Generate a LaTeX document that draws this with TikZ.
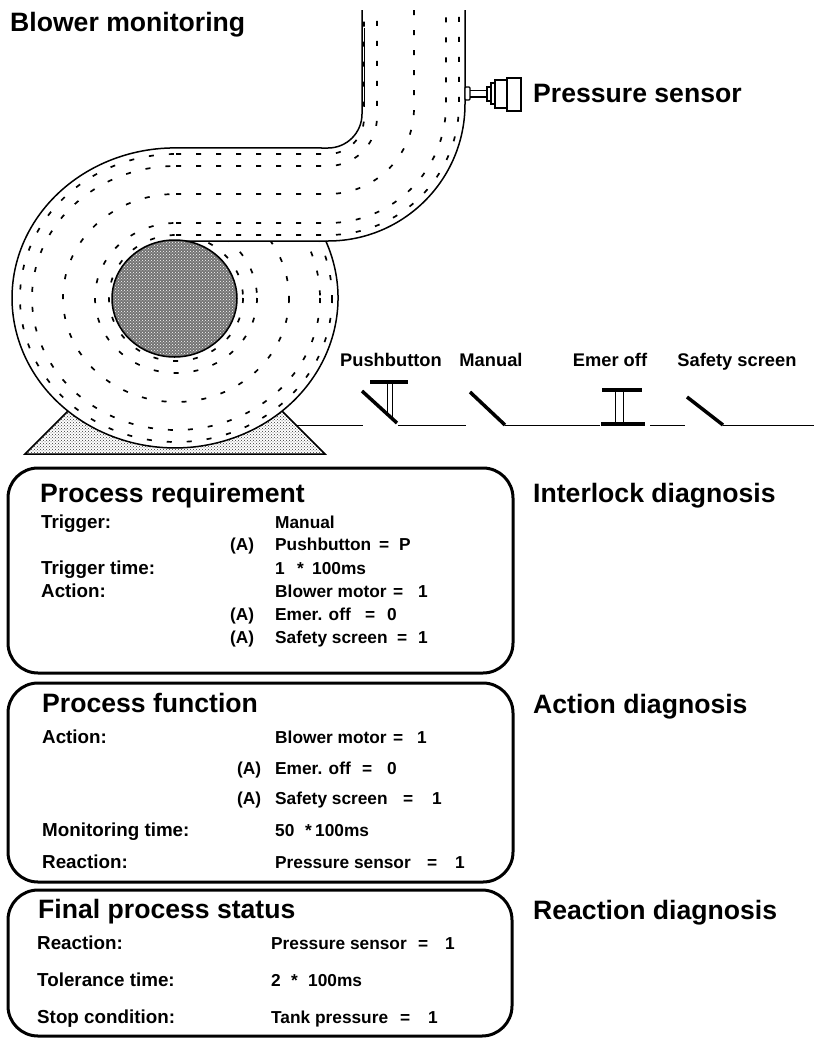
\documentclass[tikz,border=0pt]{standalone}
\usepackage{fontspec}
\setmainfont{Liberation Sans}
\usetikzlibrary{patterns}
\begin{document}
\begin{tikzpicture}[x=1pt,y=-1pt,
  head/.style={font=\fontsize{26.6}{30}\selectfont\bfseries, anchor=base west, inner sep=0pt},
  txt/.style={font=\fontsize{18.8}{22}\selectfont\bfseries, anchor=base west, inner sep=0pt},
  val/.style={font=\fontsize{17.3}{21}\selectfont\bfseries, anchor=base west, inner sep=0pt},
  lbl/.style={font=\fontsize{18.3}{22}\selectfont\bfseries, anchor=base, inner sep=0pt},
  wall/.style={line width=1.5pt},
  flow/.style={line width=1.7pt, dash pattern=on 5pt off 15pt},
  panel/.style={line width=3pt, rounded corners=30pt},
  contact/.style={line width=3.5pt},
  wire/.style={line width=1pt},
  part/.style={line width=1.2pt, fill=white}]
\useasboundingbox (0,0) rectangle (814,1039);

% ---------- blower on its base ----------
\draw[wall, pattern=crosshatch dots, pattern color=black!80] (25,454) -- (325,454) -- (175,304) -- cycle;
\fill[white] (175,298) ellipse[x radius=163, y radius=150];

% air flow lines around the impeller
\begin{scope}
  \clip (0,10) -- (176,10) -- (176,241) -- (814,241) -- (814,1039) -- (0,1039) -- cycle;
  \foreach \rx/\ry in {156/144, 144/132, 113/104, 81/75, 67/63}
    \draw[flow] (176,298) ellipse[x radius=\rx, y radius=\ry];
\end{scope}
% air flow lines through the outlet duct
\begin{scope}
  \clip (0,10) rectangle (814,1039);
  \foreach \y/\x in {154/364, 166/377, 194/414, 223/446, 235/459} {
    \pgfmathsetmacro\rr{\x-328}
    \draw[flow] (176,\y) -- (328,\y) arc[start angle=90, end angle=0, radius=\rr] -- (\x,0);
  }
\end{scope}

% housing and duct walls
\draw[wall] (325.8,241) arc[start angle=-22.3, end angle=270, x radius=163, y radius=150]
  -- (328,148) arc[start angle=90, end angle=0, radius=34] -- (362,10);
\draw[wall] (465,10) -- (465,104) arc[start angle=0, end angle=90, radius=137] -- (176,241);
\draw[line width=1pt] (364.5,28) -- (364.5,107);

% impeller hub
\filldraw[line width=1.5pt, fill=black!55] (174.5,298.5) ellipse[x radius=62.5, y radius=58.5];
\fill[pattern=crosshatch dots, pattern color=white] (174.5,298.5) ellipse[x radius=61, y radius=57];

% pressure sensor on the duct
\draw[part, rounded corners=1pt] (465,87) rectangle (470,100);
\draw[line width=1.2pt] (470,90.5) -- (487,90.5) (470,97) -- (487,97);
\draw[part] (487,87) rectangle (491,101);
\draw[part] (491,83) rectangle (495,104);
\draw[part] (495,80) rectangle (507,108);
\draw[part, line width=1.5pt] (507,78) rectangle (521,111);

% ---------- switch chain ----------
\draw[wire] (297,425.5) -- (363,425.5);
\draw[contact] (362,391) -- (397,423);
\draw[contact] (370,382) -- (408,382);
\draw[line width=1pt] (387,382) -- (387,414) (392,382) -- (392,418.5);
\draw[wire] (398,425.5) -- (466,425.5);
\draw[contact] (470,392) -- (505,425);
\draw[wire] (505,425.5) -- (600,425.5);
\draw[contact, line width=4pt] (601,423.5) -- (645,423.5);
\draw[contact] (602,390) -- (642,390);
\draw[line width=1pt] (615,390) -- (615,423) (623,390) -- (623,423);
\draw[wire] (650,425.5) -- (685,425.5);
\draw[contact] (687,397) -- (723,425);
\draw[wire] (723,425.5) -- (814,425.5);

\node[lbl] (lpush) at (391,366) {Pushbutton};
\node[lbl] (lmanual) at (491,366) {Manual};
\node[lbl] (lemer) at (610,366) {Emer off};
\node[lbl] (lscreen) at (737,366) {Safety screen};

% ---------- headings ----------
\node[head] (title) at (10,31) {Blower monitoring};
\node[head] (psens) at (533,102) {Pressure sensor};
\node[head] (dint) at (533,502) {Interlock diagnosis};
\node[head] (dact) at (533,713) {Action diagnosis};
\node[head] (dreact) at (533,919) {Reaction diagnosis};

% ---------- panels ----------
\draw[panel] (8,468) rectangle (513,673);
\draw[panel] (8,683) rectangle (513,882);
\draw[panel] (8,890) rectangle (512,1036);

% process requirement
\node[head] (prh) at (40,502) {Process requirement};
\node[txt] (pr1) at (41,528) {Trigger:};
\node[val] (pr1v) at (275,528) {Manual};
\node[val] (pr2a) at (230,550) {(A)};
\node[val] (pr2v) at (275,550) {Pushbutton};
\node[val] (pr2e) at (379,550) {=};
\node[val] (pr2n) at (399,550) {P};
\node[txt] (pr3) at (41,574) {Trigger time:};
\node[val] (pr3a) at (275,574) {1};
\node[val] (pr3b) at (297,574) {*};
\node[val] (pr3c) at (312,574) {100ms};
\node[txt] (pr4) at (41,597) {Action:};
\node[val] (pr4v) at (275,597) {Blower motor};
\node[val] (pr4e) at (393,597) {=};
\node[val] (pr4n) at (418,597) {1};
\node[val] (pr5a) at (230,620) {(A)};
\node[val] (pr5v) at (275,620) {Emer. off};
\node[val] (pr5e) at (365,620) {=};
\node[val] (pr5n) at (387,620) {0};
\node[val] (pr6a) at (230,643) {(A)};
\node[val] (pr6v) at (275,643) {Safety screen};
\node[val] (pr6e) at (397,643) {=};
\node[val] (pr6n) at (418,643) {1};

% process function
\node[head] (pfh) at (42,712) {Process function};
\node[txt] (pf1) at (42,743) {Action:};
\node[val] (pf1v) at (275,743) {Blower motor};
\node[val] (pf1e) at (393,743) {=};
\node[val] (pf1n) at (417,743) {1};
\node[val] (pf2a) at (237,774) {(A)};
\node[val] (pf2v) at (275,774) {Emer. off};
\node[val] (pf2e) at (362,774) {=};
\node[val] (pf2n) at (387,774) {0};
\node[val] (pf3a) at (237,804) {(A)};
\node[val] (pf3v) at (275,804) {Safety screen};
\node[val] (pf3e) at (403,804) {=};
\node[val] (pf3n) at (432,804) {1};
\node[txt] (pf4) at (42,836) {Monitoring time:};
\node[val] (pf4a) at (275,836) {50};
\node[val] (pf4b) at (305,836) {*};
\node[val] (pf4c) at (315,836) {100ms};
\node[txt] (pf5) at (42,868) {Reaction:};
\node[val] (pf5v) at (275,868) {Pressure sensor};
\node[val] (pf5e) at (427,868) {=};
\node[val] (pf5n) at (455,868) {1};

% final process status
\node[head] (fsh) at (38,918) {Final process status};
\node[txt] (fs1) at (37,949) {Reaction:};
\node[val] (fs1v) at (271,949) {Pressure sensor};
\node[val] (fs1e) at (418,949) {=};
\node[val] (fs1n) at (445,949) {1};
\node[txt] (fs2) at (37,986) {Tolerance time:};
\node[val] (fs2a) at (271,986) {2};
\node[val] (fs2b) at (291,986) {*};
\node[val] (fs2c) at (308,986) {100ms};
\node[txt] (fs3) at (37,1023) {Stop condition:};
\node[val] (fs3v) at (271,1023) {Tank pressure};
\node[val] (fs3e) at (400,1023) {=};
\node[val] (fs3n) at (428,1023) {1};
\end{tikzpicture}
\end{document}
